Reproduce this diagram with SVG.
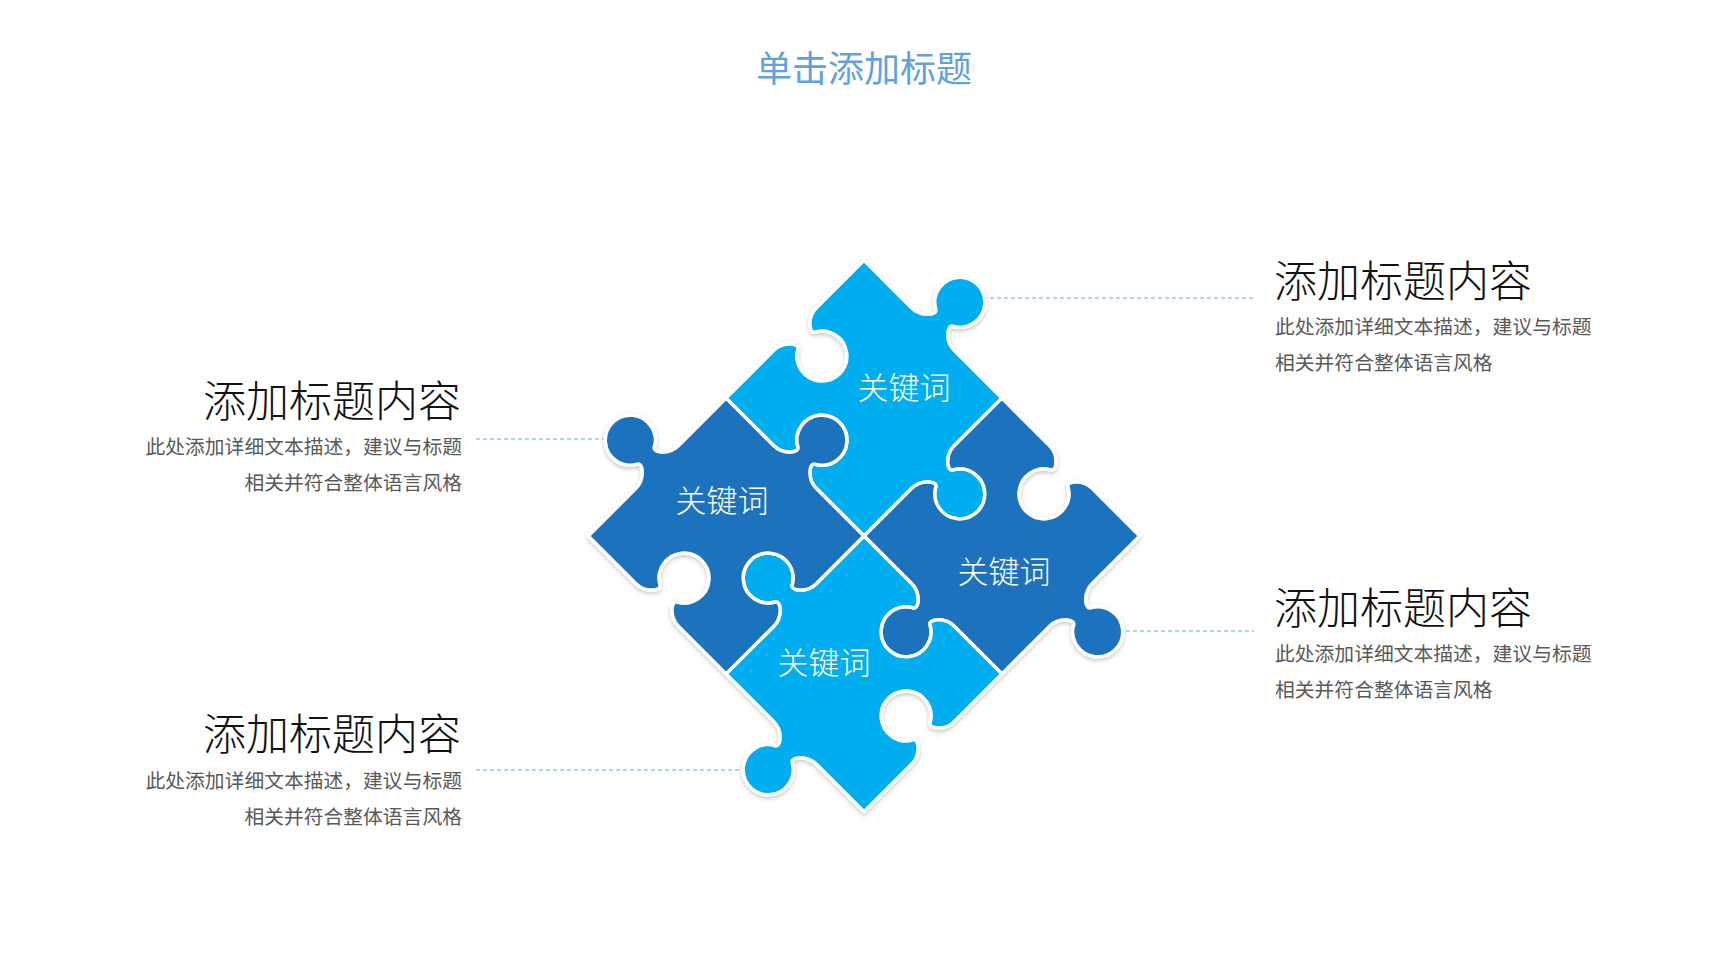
<svg xmlns="http://www.w3.org/2000/svg" xmlns:xlink="http://www.w3.org/1999/xlink" width="1728" height="972" viewBox="0 0 1728 972">
  <style>
    .title { font-family: "Noto Sans CJK SC", "Noto Sans", sans-serif; font-size: 36px; fill: #5FA3DE; }
    .head { font-family: "Noto Sans CJK SC", sans-serif; font-size: 43px; fill: #111111; font-weight: 300; }
    .desc { font-family: "Noto Sans CJK SC", sans-serif; font-size: 19.8px; fill: #595959; }
    .kw { font-family: "Noto Sans CJK SC", sans-serif; font-size: 31px; fill: #FFFFFF; text-anchor: middle; font-weight: 300; }
    .light { fill: #00ADEE; }
    .dark { fill: #1F72BD; }
    .piece { stroke: #FFFFFF; stroke-width: 3.5; stroke-linejoin: round; }
    .conn { stroke: #9CC6E8; stroke-width: 1.6; stroke-dasharray: 4 3; fill: none; }
    .right { text-anchor: start; }
    .left { text-anchor: end; }
  </style>
  <defs>
    <path id="pc" d="M -195,-195 L -127.5,-195 C -114.5,-195 -104.1,-208.1 -109.4,-211 A 25 25 0 1 1 -85.6,-211 C -90.9,-208.1 -80.5,-195 -67.5,-195 L 0,-195 L 0,-127.5 C 0,-114.5 13.1,-104.1 16,-109.4 A 25 25 0 1 1 16,-85.6 C 13.1,-90.9 0,-80.5 0,-67.5 L 0,0 L -67.5,0 C -80.5,0 -90.9,-13.1 -85.6,-16 A 25 25 0 1 0 -109.4,-16 C -104.1,-13.1 -114.5,0 -127.5,0 L -195,0 L -195,-67.5 C -195,-80.5 -181.9,-90.9 -179,-85.6 A 25 25 0 1 0 -179,-109.4 C -181.9,-104.1 -195,-114.5 -195,-127.5 Z"/>
    <filter id="sh" x="-20%" y="-20%" width="140%" height="140%">
      <feDropShadow dx="0" dy="2" stdDeviation="2" flood-color="#000000" flood-opacity="0.22"/>
    </filter>
  </defs>
  <rect width="1728" height="972" fill="#FFFFFF"/>

  <text class="title" x="864" y="82" text-anchor="middle">单击添加标题</text>

  <g id="connectors">
    <line class="conn" x1="962" y1="298" x2="1254" y2="298"/>
    <line class="conn" x1="476" y1="439" x2="628" y2="439"/>
    <line class="conn" x1="1098" y1="631" x2="1254" y2="631"/>
    <line class="conn" x1="476" y1="770" x2="766" y2="770"/>
  </g>

  <g id="puzzle" filter="url(#sh)">
    <g id="piece-top">
      <use href="#pc" xlink:href="#pc" class="piece light" transform="translate(864,536) rotate(45)"/>
    </g>
    <g id="piece-right">
      <use href="#pc" xlink:href="#pc" class="piece dark" transform="translate(864,536) rotate(135)"/>
    </g>
    <g id="piece-bottom">
      <use href="#pc" xlink:href="#pc" class="piece light" transform="translate(864,536) rotate(225)"/>
    </g>
    <g id="piece-left">
      <use href="#pc" xlink:href="#pc" class="piece dark" transform="translate(864,536) rotate(315)"/>
    </g>
  </g>
  <g id="labels">
    <text class="kw" x="904" y="399">关键词</text>
    <text class="kw" x="722" y="512">关键词</text>
    <text class="kw" x="1004" y="583">关键词</text>
    <text class="kw" x="824" y="674">关键词</text>
  </g>

  <g id="text-right-top">
    <text class="head right" x="1274" y="297">添加标题内容</text>
    <text class="desc right" x="1275" y="334">此处添加详细文本描述，建议与标题</text>
    <text class="desc right" x="1275" y="370">相关并符合整体语言风格</text>
  </g>
  <g id="text-left-top">
    <text class="head left" x="461" y="417">添加标题内容</text>
    <text class="desc left" x="462" y="454">此处添加详细文本描述，建议与标题</text>
    <text class="desc left" x="462" y="490">相关并符合整体语言风格</text>
  </g>
  <g id="text-right-bottom">
    <text class="head right" x="1274" y="624">添加标题内容</text>
    <text class="desc right" x="1275" y="661">此处添加详细文本描述，建议与标题</text>
    <text class="desc right" x="1275" y="697">相关并符合整体语言风格</text>
  </g>
  <g id="text-left-bottom">
    <text class="head left" x="461" y="750">添加标题内容</text>
    <text class="desc left" x="462" y="788">此处添加详细文本描述，建议与标题</text>
    <text class="desc left" x="462" y="824">相关并符合整体语言风格</text>
  </g>
</svg>
